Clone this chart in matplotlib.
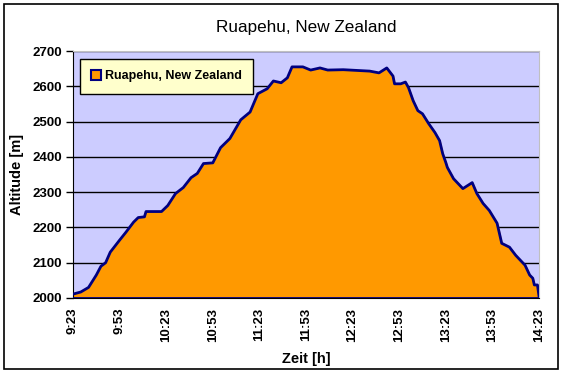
import matplotlib.pyplot as plt
from matplotlib.patches import Rectangle

# minutes after 9:23 and altitude in m
minutes = [0, 5, 10, 15, 18, 21, 24, 30, 34, 39, 42, 46, 47, 57, 61, 66, 71, 76, 80,
           84, 90, 95, 101, 108, 114, 119, 125, 129, 134, 138, 141, 148, 153, 159, 164,
           174, 191, 197, 202, 206, 207, 211, 214, 216, 219, 222, 225, 229, 233, 236,
           238, 240, 241, 245, 251, 257, 260, 264, 268, 273, 276, 281, 285, 288, 291,
           294, 296, 297, 299, 300]
altitude = [2011, 2017, 2030, 2065, 2090, 2100, 2130, 2164, 2186, 2215, 2228, 2230, 2245,
            2245, 2262, 2296, 2313, 2341, 2353, 2381, 2383, 2426, 2452, 2505, 2527, 2579,
            2593, 2615, 2610, 2624, 2655, 2655, 2646, 2652, 2646, 2647, 2643, 2638, 2652,
            2629, 2607, 2607, 2612, 2596, 2559, 2531, 2522, 2494, 2469, 2446, 2409, 2384,
            2370, 2338, 2310, 2327, 2296, 2268, 2248, 2212, 2155, 2144, 2121, 2107, 2093,
            2065, 2056, 2037, 2037, 2005]
tick_min = list(range(0, 301, 30))
tick_labels = ["9:23", "9:53", "10:23", "10:53", "11:23", "11:53",
               "12:23", "12:53", "13:23", "13:53", "14:23"]
y_ticks = [2000, 2100, 2200, 2300, 2400, 2500, 2600, 2700]

plt.rcParams['font.family'] = ['Liberation Sans', 'DejaVu Sans']

fig = plt.figure(figsize=(5.63, 3.73), dpi=100)
fig.patches.append(Rectangle((4 / 563, 4 / 373), 554 / 563, 365 / 373,
                             transform=fig.transFigure, fill=False,
                             edgecolor='black', linewidth=1.2))
ax = fig.add_axes([73 / 563, 1 - 298 / 373, 466 / 563, 247 / 373])
ax.set_facecolor('#CCCCFF')

ax.fill_between(minutes, 2000, altitude, color='#FF9900', zorder=2)
ax.plot(minutes, altitude, color='#000080', linewidth=2.0, zorder=3)
ax.plot([0, 300], [2000, 2000], color='#000080', linewidth=2.0, zorder=3)

ax.set_xlim(0, 300)
ax.set_ylim(2000, 2700)
ax.set_yticks(y_ticks)
ax.set_yticklabels([str(v) for v in y_ticks], fontsize=9.5, fontweight='bold')
ax.set_xticks(tick_min)
ax.set_xticklabels(tick_labels, rotation=90, fontsize=9.5, fontweight='bold')
ax.tick_params(axis='y', length=5, width=1, direction='out', pad=3)
ax.tick_params(axis='x', length=0, pad=7)
ax.grid(axis='y', color='black', linewidth=1, zorder=1)
ax.set_axisbelow(True)

for s in ['top', 'right']:
    ax.spines[s].set_color('#C0C0C0')
ax.spines['left'].set_color('black')
ax.spines['bottom'].set_color('black')

ax.set_title('Ruapehu, New Zealand', fontsize=12.3, pad=14)
ax.set_ylabel('Altitude [m]', fontsize=10.5, fontweight='bold', labelpad=6)
ax.set_xlabel('Zeit [h]', fontsize=10.5, fontweight='bold', labelpad=7)

handle = Rectangle((0, 0), 1, 1, facecolor='#FF9900', edgecolor='#000080', linewidth=1.5)
leg = ax.legend([handle], ['Ruapehu, New Zealand'], loc='upper left',
                bbox_to_anchor=(7 / 466, 1 - 8 / 247), borderaxespad=0,
                fancybox=False, framealpha=1,
                prop={'size': 9, 'weight': 'bold'}, handlelength=0.8,
                handleheight=0.8, handletextpad=0.3, borderpad=0.9)
leg.get_frame().set_facecolor('#FFFFCC')
leg.get_frame().set_edgecolor('black')
leg.get_frame().set_linewidth(1)

fig.savefig('out.png', dpi=100)
